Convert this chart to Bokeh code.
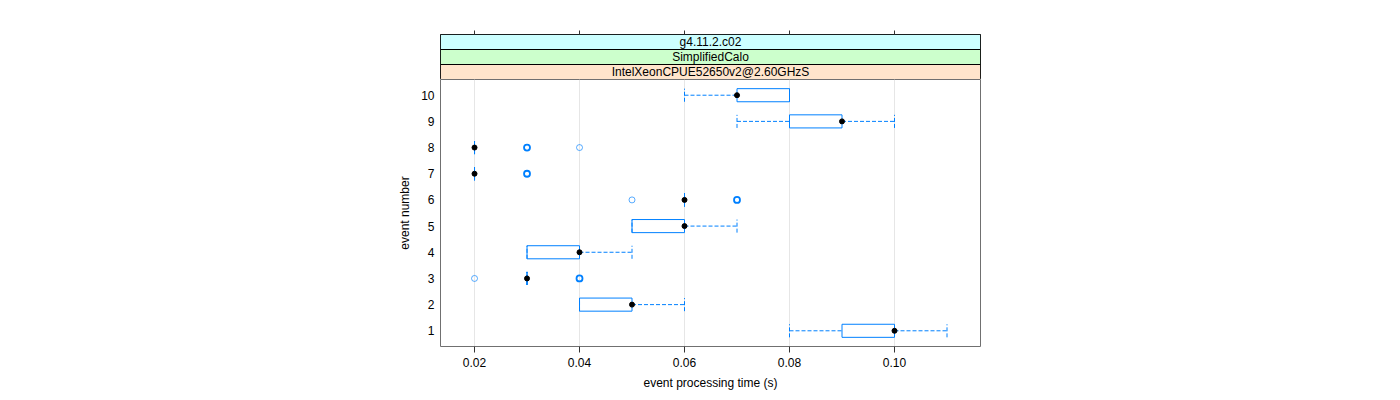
from bokeh.plotting import figure
from bokeh.layouts import column
from bokeh.models import FixedTicker, Range1d, ColumnDataSource
from bokeh.embed import file_html
from bokeh.resources import INLINE
from bokeh.core.properties import value

# ---- data ----
events = [1, 2, 3, 4, 5, 6, 7, 8, 9, 10]
box_lo = [0.09, 0.04, 0.03, 0.03, 0.05, 0.06, 0.02, 0.02, 0.08, 0.07]
box_hi = [0.10, 0.05, 0.03, 0.04, 0.06, 0.06, 0.02, 0.02, 0.09, 0.08]
medians = [0.10, 0.05, 0.03, 0.04, 0.06, 0.06, 0.02, 0.02, 0.09, 0.07]
whisk_lo = [0.08, 0.04, 0.03, 0.03, 0.05, 0.06, 0.02, 0.02, 0.07, 0.06]
whisk_hi = [0.11, 0.06, 0.03, 0.05, 0.07, 0.06, 0.02, 0.02, 0.10, 0.08]

out_event = [3, 3, 6, 6, 7, 8, 8]
out_time = [0.02, 0.04, 0.05, 0.07, 0.03, 0.03, 0.04]
out_count = [1, 3, 1, 3, 3, 3, 1]

x_ticks = [0.02, 0.04, 0.06, 0.08, 0.10]
strip_labels = ["IntelXeonCPUE52650v2@2.60GHzS", "SimplifiedCalo", "g4.11.2.c02"]
strip_colors = ["#ffe5cc", "#ccffcc", "#ccffff"]

FONT = "Liberation Sans"
BLUE = "#0080ff"
HALF = 0.25

x_range = Range1d(0.01352, 0.11638)

# ---- strip figure ----
strip = figure(width=1392, height=79, x_range=x_range, y_range=Range1d(0, 3),
               output_backend="svg", toolbar_location=None,
               x_axis_location="above", y_axis_location=None,
               min_border_left=440, min_border_right=412,
               min_border_top=34, min_border_bottom=0)
strip.xgrid.visible = False
strip.ygrid.visible = False
strip.outline_line_color = "black"
strip.xaxis.ticker = FixedTicker(ticks=x_ticks)
strip.xaxis.major_label_overrides = {t: "" for t in x_ticks}
strip.xaxis.major_label_standoff = 0
strip.xaxis.axis_line_color = None
strip.xaxis.minor_tick_line_color = None
strip.xaxis.major_tick_in = 0
strip.xaxis.major_tick_out = 4
strip.xaxis.major_tick_line_color = "#333333"

xmid = (x_range.start + x_range.end) / 2
strip.quad(left=[x_range.start] * 3, right=[x_range.end] * 3,
           bottom=[0, 1, 2], top=[1, 2, 3], fill_color=strip_colors,
           line_color="black", line_width=1)
strip.text(x=[xmid] * 3, y=[0.5, 1.5, 2.5], text=strip_labels,
           text_align="center", text_baseline="middle",
           text_font=value(FONT), text_font_size="12px", text_color="black")

# ---- main panel ----
p = figure(width=1392, height=313, x_range=x_range, y_range=Range1d(0.4, 10.6),
           output_backend="svg", toolbar_location=None,
           min_border_left=440, min_border_right=412,
           min_border_top=0, min_border_bottom=44)
p.outline_line_color = "#707070"
p.ygrid.visible = False
p.xgrid.ticker = FixedTicker(ticks=x_ticks)
p.xgrid.grid_line_color = "#e6e6e6"

p.xaxis.ticker = FixedTicker(ticks=x_ticks)
p.xaxis.major_label_overrides = {t: f"{t:.2f}" for t in x_ticks}
p.yaxis.ticker = FixedTicker(ticks=events)
for ax in (p.xaxis, p.yaxis):
    ax.axis_line_color = None
    ax.minor_tick_line_color = None
    ax.major_label_text_font = FONT
    ax.major_label_text_font_size = "12px"
    ax.major_label_text_color = "black"
    ax.axis_label_text_font = FONT
    ax.axis_label_text_font_size = "12px"
    ax.axis_label_text_font_style = "normal"
    ax.axis_label_text_color = "black"
p.xaxis.major_tick_in = 0
p.xaxis.major_tick_out = 6
p.xaxis.major_tick_line_color = "#333333"
p.xaxis.axis_label = "event processing time (s)"
p.xaxis.axis_label_standoff = 6
p.yaxis.major_tick_line_color = None
p.yaxis.major_tick_in = 0
p.yaxis.major_tick_out = 0
p.yaxis.major_label_standoff = 6
p.yaxis.axis_label = "event number"
p.yaxis.axis_label_standoff = 6

# whiskers (dashed)
p.segment(x0=whisk_lo, y0=events, x1=box_lo, y1=events,
          line_color=BLUE, line_dash="4 2", line_width=1)
p.segment(x0=box_hi, y0=events, x1=whisk_hi, y1=events,
          line_color=BLUE, line_dash="4 2", line_width=1)
# whisker caps
p.segment(x0=whisk_lo, y0=[e - HALF for e in events], x1=whisk_lo,
          y1=[e + HALF for e in events], line_color=BLUE, line_dash="4 2", line_width=1)
p.segment(x0=whisk_hi, y0=[e - HALF for e in events], x1=whisk_hi,
          y1=[e + HALF for e in events], line_color=BLUE, line_dash="4 2", line_width=1)

# boxes as closed outlines
xs = [[lo, hi, hi, lo, lo] for lo, hi in zip(box_lo, box_hi)]
ys = [[e - HALF, e - HALF, e + HALF, e + HALF, e - HALF] for e in events]
p.multi_line(xs=xs, ys=ys, line_color=BLUE, line_width=1)

# outliers
out_src = ColumnDataSource(dict(
    x=out_time, y=out_event,
    w=[1.0 if c == 1 else 1.8 for c in out_count],
    a=[0.65 if c == 1 else 1.0 for c in out_count]))
p.scatter(x="x", y="y", source=out_src, marker="circle", size=6,
          fill_color=None, line_color=BLUE, line_width="w", line_alpha="a")

# medians
p.scatter(x=medians, y=events, marker="circle", size=5,
          fill_color="black", line_color="black")

layout = column(strip, p, spacing=0)
open("out.html", "w").write(file_html(layout, INLINE))
